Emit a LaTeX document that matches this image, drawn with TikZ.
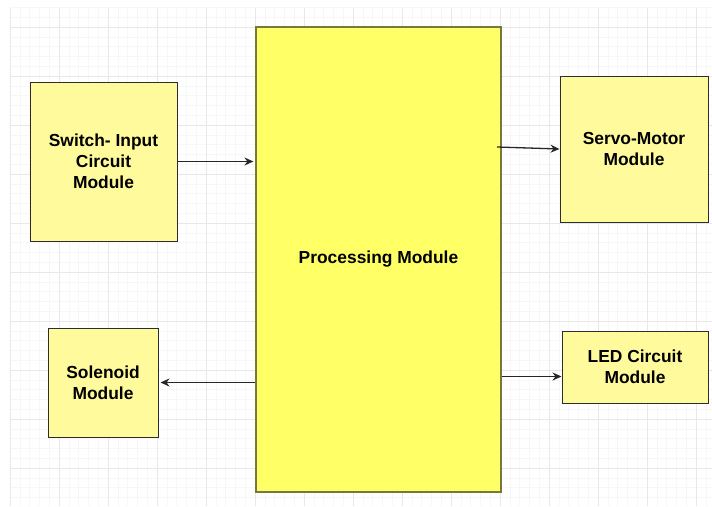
\documentclass[tikz,border=0pt]{standalone}
\usepackage{fontspec}
\setmainfont{Liberation Sans}
\usetikzlibrary{arrows.meta,positioning}
\definecolor{paleyellow}{RGB}{255,250,155}
\definecolor{brightyellow}{RGB}{255,255,102}
\definecolor{olive}{RGB}{120,120,60}
\definecolor{edge}{RGB}{45,45,45}
\definecolor{gridmajor}{RGB}{232,232,232}
\definecolor{gridminor}{RGB}{247,247,247}
\tikzset{
  module/.style={draw=edge,line width=1pt,fill=paleyellow,inner sep=0pt,align=center,font=\fontsize{17.4}{21}\selectfont\bfseries},
  core/.style={module,draw=olive,line width=1.2pt,fill=brightyellow},
  arr/.style={-{Stealth[length=9pt,width=8pt,inset=3pt]},draw=black!85,line width=1.3pt}
}

\begin{document}
\begin{tikzpicture}[x=1pt,y=-1pt]
  \useasboundingbox (0,0) rectangle (712,506);
  \fill[white] (0,0) rectangle (712,506);

  % background grid
  \foreach \i in {0,...,71}
    \draw[gridminor,line width=0.6pt] (10+9.8*\i,8) -- (10+9.8*\i,506);
  \foreach \j in {0,...,51}
    \draw[gridminor,line width=0.6pt] (10,7.4+9.8*\j) -- (712,7.4+9.8*\j);
  \foreach \i in {0,...,14}
    \draw[gridmajor,line width=0.8pt] (10+49*\i,8) -- (10+49*\i,506);
  \foreach \j in {0,...,9}
    \draw[gridmajor,line width=0.8pt] (10,27+49*\j) -- (712,27+49*\j);

  % blocks
  \node[core,minimum width=245pt,minimum height=465pt] (proc) at (378.5,259.5) {Processing Module};
  \node[module,minimum width=147pt,minimum height=159pt] (switch) at (103.5,161.5) {Switch- Input\\Circuit\\Module};
  \node[module,minimum width=148pt,minimum height=146pt] (servo) at (634,149) {Servo-Motor\\Module};
  \node[module,minimum width=110pt,minimum height=109pt] (solenoid) at (103,382.5) {Solenoid\\Module};
  \node[module,minimum width=146pt,minimum height=72pt] (led) at (635,367) {LED Circuit\\Module};

  % signal paths
  \coordinate (servoout) at (497,147);
  \draw[arr] (switch.east) -- ([xshift=-2pt]switch.east -| proc.west);
  \draw[arr] (servoout) -- (servo.west);
  \draw[arr] (solenoid.east -| proc.west) -- ([xshift=2pt]solenoid.east);
  \draw[arr] (proc.east |- {0,376.5}) -- (led.west |- {0,376.5});
\end{tikzpicture}
\end{document}
